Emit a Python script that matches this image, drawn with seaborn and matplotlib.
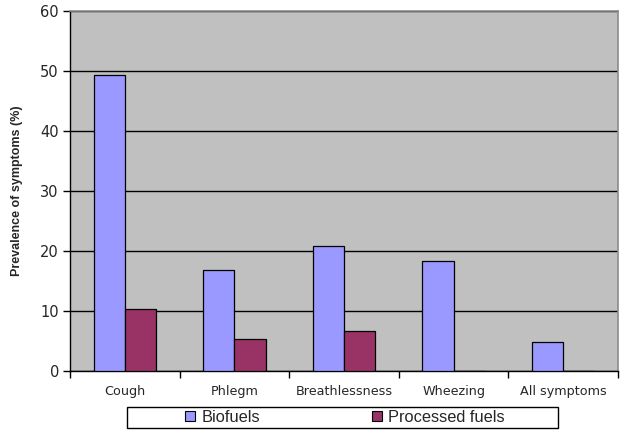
import matplotlib
matplotlib.use("Agg")
import matplotlib.pyplot as plt
from matplotlib.patches import Rectangle
import seaborn as sns
import numpy as np
import pandas as pd

# values
symptoms = ["Cough", "Phlegm", "Breathlessness", "Wheezing", "All symptoms"]
biofuels = [49.3, 16.8, 20.9, 18.4, 4.9]
processed = [10.4, 5.3, 6.6, 0.0, 0.0]
fuel_types = ["Biofuels", "Processed fuels"]
colors = ["#9999FF", "#993366"]

df = pd.DataFrame({
    "symptom": symptoms * 2,
    "value": biofuels + processed,
    "fuel": [fuel_types[0]] * len(symptoms) + [fuel_types[1]] * len(symptoms),
})

sns.set_style("white")
plt.rcParams["font.family"] = ["Liberation Sans", "DejaVu Sans"]

W, H = 628, 440
fig = plt.figure(figsize=(W / 100, H / 100), dpi=100)
ax = fig.add_axes([70 / W, 69 / H, 548 / W, 360 / H])
ax.set_facecolor("#C0C0C0")

sns.barplot(data=df, x="symptom", y="value", hue="fuel", order=symptoms,
            hue_order=fuel_types, palette=colors, width=0.57,
            edgecolor="black", linewidth=0.9, saturation=1, ax=ax, zorder=3)

ax.set_ylim(0, 60)
ax.set_xlim(-0.5, len(symptoms) - 0.5)
ax.set_yticks(np.arange(0, 61, 10))
ax.yaxis.grid(True, color="black", linewidth=1.0, zorder=1)
ax.set_axisbelow(True)

# ticks: y outward, x only at the category borders
ax.tick_params(axis="y", which="major", direction="out", length=5, width=1,
               color="black", pad=3, left=True)
ax.tick_params(axis="x", which="major", length=0, pad=10)
ax.set_xticks(np.arange(-0.5, len(symptoms), 1.0), minor=True)
ax.tick_params(axis="x", which="minor", direction="out", length=5, width=1,
               color="black", bottom=True)
for lab in ax.get_yticklabels():
    lab.set_fontfamily("DejaVu Sans")
    lab.set_fontsize(10.5)
for lab in ax.get_xticklabels():
    lab.set_fontfamily("DejaVu Sans")
    lab.set_fontsize(9.2)

ax.set_xlabel("")
ax.set_ylabel("Prevalence of symptoms (%)", fontsize=9, fontweight="bold")
ax.yaxis.set_label_coords(-0.086, 0.5)

for side in ["left", "bottom"]:
    ax.spines[side].set_color("black")
    ax.spines[side].set_linewidth(1.0)
for side in ["top", "right"]:
    ax.spines[side].set_color("#8C8C8C")
    ax.spines[side].set_linewidth(1.2)

# legend below the plot, with its own plain box
handles, labels = ax.get_legend_handles_labels()
ax.legend_.remove()
fig.patches.append(Rectangle((127 / W, 1 - 428 / H), 431 / W, 21 / H,
                             transform=fig.transFigure, facecolor="white",
                             edgecolor="black", linewidth=1.0, zorder=0))
leg = fig.legend(handles, labels, loc="center", ncol=2,
                 bbox_to_anchor=(345 / W, 1 - 417.5 / H),
                 frameon=False, fontsize=11.8,
                 handlelength=0.6, handleheight=0.6, handletextpad=0.4,
                 columnspacing=6.8, borderpad=0, borderaxespad=0)
for h in leg.legend_handles:
    h.set_edgecolor("black")
    h.set_linewidth(0.8)

fig.savefig("out.png", dpi=100)
